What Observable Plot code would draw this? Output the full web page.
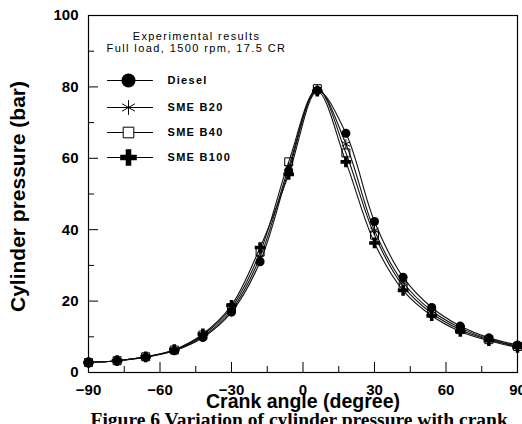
<!DOCTYPE html>
<html>
<head>
<meta charset="utf-8">
<script src="https://cdn.jsdelivr.net/npm/d3@7"></script>
<script src="https://cdn.jsdelivr.net/npm/@observablehq/plot@0.6"></script>
<style>
  html, body { margin: 0; padding: 0; background: #fff; overflow: hidden; }
  #chart svg { display: block; }
  text[aria-label="legend-title"] { letter-spacing: 1.4px; }
  text[aria-label="legend-label"] { letter-spacing: 1.3px; }
</style>
</head>
<body>
<div id="chart"></div>
<script>
// ---- data ----
const angles = [-90, -78, -66, -54, -42, -30, -18, -6, 6, 18, 30, 42, 54, 66, 78, 90];
const diesel = [2.8, 3.3, 4.3, 6.1, 9.8, 16.9, 31.0, 56.5, 79.0, 67.0, 42.3, 26.7, 18.2, 13.0, 9.7, 7.7];
const smeB20 = [2.8, 3.3, 4.3, 6.2, 10.1, 17.5, 32.3, 57.5, 79.3, 64.0, 39.8, 25.2, 17.3, 12.5, 9.4, 7.4];
const smeB40 = [2.8, 3.3, 4.4, 6.3, 10.5, 18.2, 33.7, 59.0, 79.5, 61.5, 38.5, 24.2, 16.6, 12.0, 9.2, 7.3];
const smeB100 = [2.8, 3.3, 4.4, 6.4, 10.8, 18.8, 35.0, 55.5, 78.8, 59.0, 36.3, 23.0, 15.9, 11.5, 8.9, 7.0];
const seriesNames = ["Diesel", "SME B20", "SME B40", "SME B100"];
const seriesSymbols = ["circle", "asterisk", "square", "cross"];
const xTicks = [-90, -60, -30, 0, 30, 60, 90];
const xMinorTicks = [-75, -45, -15, 15, 45, 75];
const yTicks = [0, 20, 40, 60, 80, 100];
const yMinorTicks = [10, 30, 50, 70, 90];
const titleLines = ["Experimental results", "Full load, 1500 rpm, 17.5 CR"];
const xTitle = "Crank angle (degree)";
const yTitle = "Cylinder pressure (bar)";
const caption = "Figure 6 Variation of cylinder pressure with crank";

const seriesValues = [diesel, smeB20, smeB40, smeB100];
const rows = seriesValues.flatMap((vals, s) =>
  angles.map((a, i) => ({angle: a, p: vals[i], series: seriesNames[s]})));

// marker styles per series (fill / stroke)
const markStyle = [
  {fill: "#000", stroke: "none"},
  {fill: "none", stroke: "#000", strokeWidth: 1},
  {fill: "none", stroke: "#000", strokeWidth: 1},
  {fill: "#000", stroke: "none"}
];

const lineShape = {draw(ctx, l) { ctx.moveTo(0, 0); ctx.lineTo(0, -l); }};

const legendY = [65, 92, 117, 142];
const legendMarks = seriesNames.flatMap((name, i) => [
  Plot.vector([0], {frameAnchor: "top-left", dx: 41.5, dy: legendY[i], length: 45, rotate: 90, anchor: "middle", shape: lineShape, stroke: "#000", strokeWidth: 1}),
  Plot.dot([0], {frameAnchor: "top-left", dx: 40, dy: legendY[i], symbol: seriesSymbols[i], r: i === 2 ? 6 : 7, ...markStyle[i], fill: markStyle[i].fill === "none" ? "#fff" : "#000"}),
  Plot.text([name], {ariaLabel: () => "legend-label", frameAnchor: "top-left", dx: 79, dy: legendY[i], textAnchor: "start", lineAnchor: "middle", fontSize: 11, fontWeight: "bold", fill: "#000"})
]);

const seriesMarks = seriesNames.map((name, i) =>
  Plot.dot(rows.filter(d => d.series === name), {x: "angle", y: "p", symbol: () => seriesSymbols[i], r: 4.5, ...markStyle[i]}));

const chart = Plot.plot({
  width: 522,
  height: 424,
  marginLeft: 88,
  marginRight: 5,
  marginTop: 15,
  marginBottom: 52,
  style: {fontFamily: "'Liberation Sans', Arial, sans-serif", background: "#fff", color: "#000"},
  x: {domain: [-90, 90]},
  y: {domain: [0, 100]},
  symbol: {type: "identity"},
  marks: [
    Plot.frame({stroke: "#000", strokeWidth: 1.2}),
    Plot.axisY(yTicks, {anchor: "left", tickSize: -10, tickPadding: 20, fontSize: 15, fontWeight: "bold", label: null}),
    Plot.axisY(yMinorTicks, {anchor: "left", tickSize: -6, tickFormat: () => "", label: null}),
    Plot.axisX(xTicks, {anchor: "bottom", tickSize: -10, tickPadding: 21.5, fontSize: 15, fontWeight: "bold", label: null}),
    Plot.axisX(xMinorTicks, {anchor: "bottom", tickSize: -6, tickFormat: () => "", label: null}),
    Plot.line(rows, {x: "angle", y: "p", z: "series", curve: "catmull-rom", stroke: "#111", strokeWidth: 1.1}),
    ...seriesMarks,
    Plot.text([titleLines[0]], {ariaLabel: () => "legend-title", frameAnchor: "top-left", dx: 108, dy: 20.8, textAnchor: "middle", lineAnchor: "middle", fontSize: 11, fill: "#000"}),
    Plot.text([titleLines[1]], {ariaLabel: () => "legend-title", frameAnchor: "top-left", dx: 108, dy: 33.2, textAnchor: "middle", lineAnchor: "middle", fontSize: 11, fill: "#000"}),
    ...legendMarks,
    Plot.text([yTitle], {frameAnchor: "left", dx: -70, dy: 2.5, rotate: -90, textAnchor: "middle", lineAnchor: "middle", fontSize: 21, fontWeight: "bold", fill: "#000"}),
    Plot.text([xTitle], {frameAnchor: "bottom", dy: 29.5, textAnchor: "middle", lineAnchor: "middle", fontSize: 19.5, fontWeight: "bold", fill: "#000"}),
    Plot.text([caption], {frameAnchor: "bottom-left", dx: 2, dy: 46.8, textAnchor: "start", lineAnchor: "middle", fontSize: 19.5, fontWeight: "bold", fontFamily: "'Liberation Serif', 'Times New Roman', serif", fill: "#000"})
  ]
});
document.getElementById("chart").appendChild(chart);
</script>
</body>
</html>
